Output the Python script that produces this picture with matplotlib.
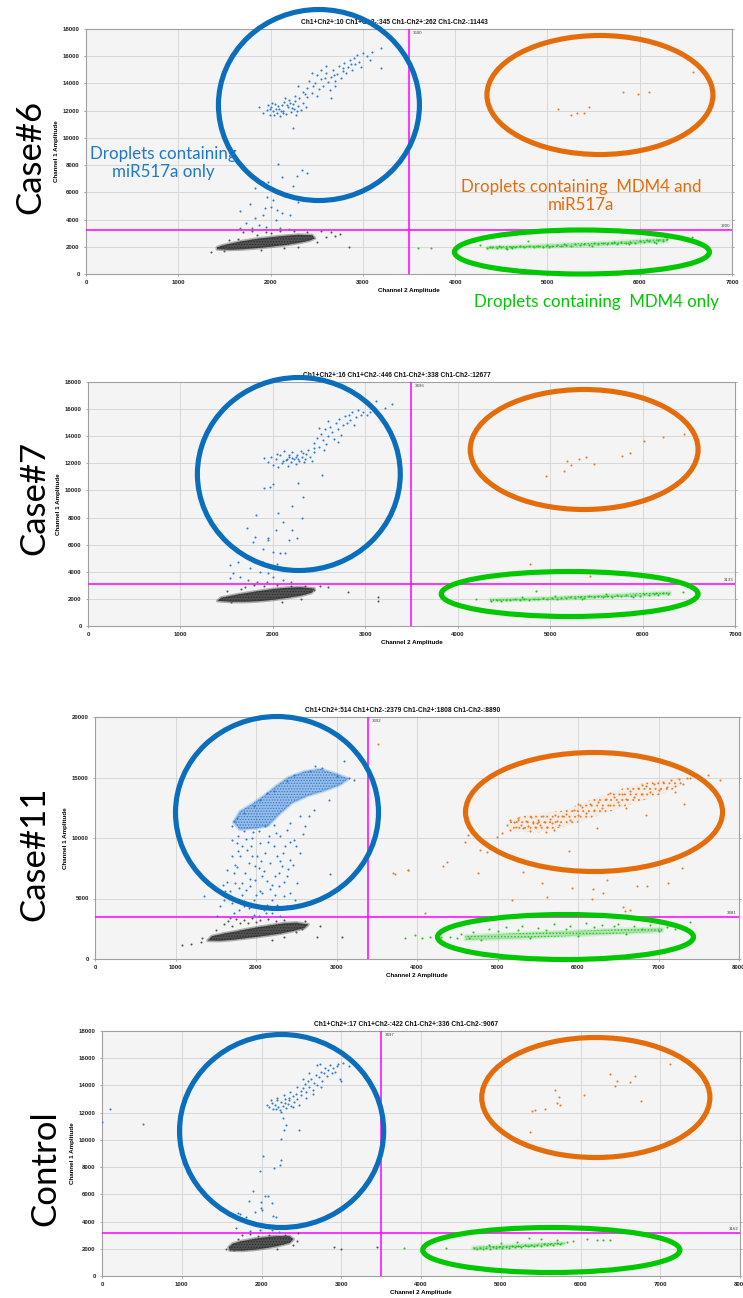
import numpy as np
import matplotlib
matplotlib.use('Agg')
import matplotlib.pyplot as plt
from matplotlib.colors import to_rgba
from matplotlib.patches import Ellipse, Polygon

plt.rcParams['font.family'] = ['Liberation Sans', 'DejaVu Sans']
plt.rcParams['hatch.linewidth'] = 0.6

FIG_W, FIG_H = 743, 1298

BLUE_DOT = '#2A7BD6'
BLACK_DOT = '#2B2B2B'
ORANGE_DOT = '#EC7A22'
GREEN_DOT = '#22C522'
BLUE_RING = '#0A6EBD'
ORANGE_RING = '#E46C0A'
GREEN_RING = '#00C800'
MAGENTA = '#FF00FF'

# ---------------- Case#6 ----------------
CASE6_COUNTS = 'Ch1+Ch2+:10 Ch1+Ch2-:345 Ch1-Ch2+:262 Ch1-Ch2-:11443'
CASE6_THRESH = (3500, 3200)
CASE6_BLUE = [
    (1880, 12250), (1920, 11850), (1960, 12050), (1990, 11700), (2010, 12300), (2030, 11950),
    (2050, 12500), (2070, 11800), (2090, 12150), (2100, 11600), (2120, 12400), (2140, 12000),
    (2150, 12650), (2170, 11750), (2190, 12250), (2200, 12800), (2220, 11900), (2240, 12500),
    (2250, 12100), (2270, 12700), (2280, 11700), (2300, 12350), (2310, 12900), (2330, 12050),
    (2350, 12600), (1970, 12400), (2060, 12150), (2110, 11950), (2180, 12450), (2230, 12200),
    (2040, 11650), (2160, 12900), (2380, 12300), (2400, 13000), (2260, 13100),
    (2350, 13400), (2400, 13700), (2420, 14200), (2450, 13300), (2480, 14000), (2500, 14600),
    (2520, 13600), (2550, 14300), (2570, 13800), (2600, 14800), (2620, 14100), (2640, 13500),
    (2660, 14500), (2680, 15000), (2700, 14200), (2720, 14700), (2740, 15300), (2760, 14400),
    (2780, 15100), (2800, 15500), (2820, 14800), (2840, 15200), (2860, 15700), (2880, 15000),
    (2900, 15900), (2920, 15400), (2940, 16100), (2960, 15600), (2980, 15200), (3000, 16200),
    (3050, 16000), (3080, 15700), (2450, 14800), (2550, 15000), (2650, 12900), (2500, 13100),
    (2300, 13800), (2700, 13800), (2600, 15300), (3200, 16600), (3200, 15100), (3100, 16300),
    (1990, 12100), (2080, 12350), (2130, 11800), (2210, 12600), (2290, 12000), (2020, 12600),
    (2370, 13200), (2460, 13800), (2590, 14400), (2690, 14600), (2790, 14900), (2870, 15400),
    (2245, 10700), (2083, 8088), (2119, 7108), (2245, 6470), (2282, 7206), (2336, 7647),
    (2390, 7451), (1830, 6299), (1920, 6789), (1975, 6789), (1957, 5686), (2029, 5441),
    (1668, 4657), (1776, 5147), (1830, 4093), (1733, 3725), (1920, 4338), (1939, 4828),
    (2000, 4950), (2065, 4706), (2058, 3970), (2119, 4461), (2209, 4338), (1668, 3407),
    (1800, 3350), (1950, 3450), (2100, 3350), (2200, 3300), (1880, 3600), (2300, 5300),
]
CASE6_BLACK_CORE = [
    (1420, 1820), (1550, 1780), (1700, 1820), (1850, 1900), (2000, 2000), (2150, 2120),
    (2300, 2280), (2420, 2450), (2480, 2620), (2450, 2850), (2300, 2880), (2150, 2800),
    (2000, 2700), (1850, 2580), (1700, 2420), (1580, 2250), (1470, 2080), (1420, 1950),
]
CASE6_BLACK = [
    (1350, 1650), (1700, 3050), (1800, 3150), (1950, 3100), (2100, 3150), (2250, 3150),
    (2400, 3100), (2550, 3150), (2650, 3100), (2750, 2950), (2300, 2000), (2500, 2350),
    (2850, 1950), (1650, 2600), (1550, 2500), (1850, 2900), (2000, 3000), (2600, 2700),
    (2700, 2800), (1500, 1700), (2150, 1900), (1900, 1750),
]
CASE6_ORANGE = [
    (5117, 12100), (5251, 11660), (5323, 11806), (5395, 11851), (5453, 12292), (5815, 13350),
    (5977, 13225), (6100, 13394), (6573, 14817),
]
CASE6_GREEN_CORE = [
    (4350, 1840), (5000, 1960), (5600, 2100), (6300, 2380),
    (6300, 2600), (5600, 2330), (5000, 2160), (4350, 2000),
]
CASE6_GREEN = [
    (3593, 1888), (3738, 1910), (4269, 2106), (4341, 1888), (4400, 1950), (4450, 1900),
    (4500, 1980), (4550, 1920), (4600, 2000), (4650, 1950), (4700, 2030), (4750, 1960),
    (4792, 2449), (4800, 2050), (4850, 1990), (4900, 2080), (4950, 2010), (5000, 2100),
    (5050, 2040), (5100, 2120), (5150, 2060), (5200, 2150), (5250, 2090), (5300, 2180),
    (5350, 2120), (5400, 2220), (5450, 2150), (5500, 2250), (5550, 2180), (5600, 2280),
    (5650, 2200), (5700, 2300), (5750, 2240), (5800, 2350), (5850, 2270), (5900, 2380),
    (5950, 2300), (6000, 2420), (6050, 2330), (6100, 2450), (6150, 2380), (6200, 2500),
    (6250, 2420), (6291, 2594), (6569, 2718), (4480, 2050), (4620, 1890), (5020, 1950),
    (5180, 2230), (5480, 2080), (5720, 2380), (5880, 2200), (6080, 2520), (6180, 2300),
    (4380, 2000), (4560, 1870),
]

# ---------------- Case#7 ----------------
CASE7_COUNTS = 'Ch1+Ch2+:16 Ch1+Ch2-:446 Ch1-Ch2+:338 Ch1-Ch2-:12677'
CASE7_THRESH = (3496, 3133)
CASE7_BLUE = [
    (1904, 12400), (1950, 12100), (2000, 11900), (2030, 12300), (2060, 11700), (2080, 12600),
    (2100, 12000), (2120, 12900), (2140, 12250), (2160, 11800), (2180, 12500), (2200, 12100),
    (2210, 12800), (2230, 12350), (2250, 11950), (2260, 12650), (2280, 12200), (2300, 12900),
    (2320, 12450), (2340, 12100), (2360, 12700), (2380, 13000), (2400, 12500), (2420, 12200),
    (2440, 13100), (2050, 12700), (2150, 12300), (2250, 12500), (2350, 12350), (1980, 12500),
    (2450, 13500), (2480, 13900), (2500, 13200), (2520, 14200), (2540, 13700), (2560, 14500),
    (2580, 13400), (2600, 14000), (2620, 14700), (2640, 14300), (2660, 13800), (2680, 15000),
    (2700, 14500), (2720, 15300), (2740, 14100), (2760, 14800), (2780, 15500), (2800, 15000),
    (2820, 15600), (2840, 15200), (2860, 15800), (2880, 14800), (2900, 15400), (2920, 15900),
    (2950, 15600), (2980, 15800), (3020, 15600), (2500, 14600), (2600, 15100), (2700, 13600),
    (2450, 12800), (2550, 13000), (3116, 16601), (3289, 16356), (3214, 16085), (3050, 15800),
    (2528, 11125), (2170, 12650), (2270, 12300), (2330, 12750), (2110, 12150), (2210, 12400),
    (1969, 10265), (2005, 10511), (1904, 10192), (2276, 10560), (2330, 9528), (2203, 8865),
    (1817, 8178), (2311, 7933), (1717, 7196), (2059, 8350), (2113, 7687), (2034, 7073),
    (2203, 7073), (2178, 6336), (2258, 6459), (1807, 6582), (1789, 6213), (1951, 6459),
    (1951, 6336), (1897, 5648), (1998, 5476), (2077, 5354), (2131, 5403), (1789, 4863),
    (1626, 4740), (1536, 4494), (1897, 4691), (2041, 4568), (1753, 4249), (1572, 3880),
    (1536, 3512), (1861, 4003), (1951, 3880), (2005, 3635), (1735, 3389), (1825, 3266),
    (1933, 3266), (2113, 3389), (1645, 3635), (2200, 3250),
]
CASE7_BLACK_CORE = [
    (1400, 1850), (1550, 1780), (1700, 1780), (1850, 1830), (2000, 1930), (2150, 2070),
    (2300, 2230), (2420, 2450), (2450, 2750), (2300, 2870), (2150, 2820), (2000, 2720),
    (1850, 2580), (1700, 2420), (1560, 2250), (1440, 2080),
]
CASE7_BLACK = [
    (1700, 2900), (1800, 3000), (1900, 2950), (2050, 3050), (2200, 2950), (2350, 2950),
    (2600, 2900), (2510, 2947), (2809, 2530), (3134, 2112), (3134, 1866), (1500, 2550),
    (1650, 2750), (2100, 1750), (2300, 2000), (1550, 1800), (2450, 2650),
]
CASE7_ORANGE = [
    (4951, 11090), (5146, 11458), (5182, 12172), (5222, 11901), (5308, 12320), (5384, 12443),
    (5477, 11950), (5780, 12541), (5859, 12738), (6011, 13647), (6220, 13917), (6443, 14138),
    (4778, 4574), (5434, 3689),
]
CASE7_GREEN_CORE = [
    (4350, 1830), (5000, 1930), (5700, 2120), (6300, 2320),
    (6300, 2520), (5700, 2330), (5000, 2120), (4350, 1990),
]
CASE7_GREEN = [
    (4195, 2016), (4364, 1869), (4420, 1920), (4470, 1880), (4520, 1950), (4570, 1900),
    (4620, 1980), (4670, 1920), (4720, 2000), (4770, 1940), (4820, 2020), (4851, 2606),
    (4870, 1960), (4920, 2050), (4970, 1990), (5020, 2080), (5070, 2010), (5120, 2100),
    (5170, 2040), (5220, 2120), (5270, 2060), (5320, 2150), (5370, 2090), (5420, 2180),
    (5470, 2110), (5520, 2200), (5570, 2140), (5620, 2230), (5670, 2170), (5720, 2260),
    (5770, 2190), (5820, 2290), (5870, 2220), (5920, 2320), (5970, 2250), (6020, 2350),
    (6070, 2280), (6120, 2380), (6170, 2310), (6220, 2400), (6270, 2340), (6436, 2484),
    (5050, 2250), (5350, 1990), (5600, 2350), (5900, 2150), (6150, 2450), (4700, 2150),
]

# ---------------- Case#11 ----------------
CASE11_COUNTS = 'Ch1+Ch2+:514 Ch1+Ch2-:2379 Ch1-Ch2+:1808 Ch1-Ch2-:8890'
CASE11_THRESH = (3392, 3481)
CASE11_BLUE_CORE = [
    (1720, 11300), (1800, 10700), (2000, 10800), (2150, 11000), (2280, 11900), (2450, 12900),
    (2650, 13500), (2850, 13900), (3050, 14400), (3150, 14900), (3000, 15300), (2800, 15700),
    (2600, 15500), (2400, 15000), (2250, 14300), (2100, 13500), (1950, 12800), (1800, 12200),
]
CASE11_BLUE = [
    (1357, 5179), (1589, 6143), (1639, 6336), (1680, 5592), (1722, 7107), (1743, 7796),
    (1805, 8485), (1867, 7107), (1888, 9036), (1909, 7934), (1929, 6006), (1950, 10000),
    (1971, 4904), (1992, 6556), (2012, 8485), (2033, 7521), (2054, 9587), (2075, 5455),
    (2095, 7245), (2116, 8760), (2137, 6419), (2158, 10138), (2178, 7934), (2199, 4904),
    (2220, 9311), (2241, 6832), (2261, 8485), (2282, 6006), (2303, 10138), (2324, 7658),
    (2344, 5179), (2365, 9311), (2386, 6832), (2427, 8209), (2469, 9862), (2510, 6281),
    (2552, 8760), (2614, 10964), (2656, 11791), (2925, 7052), (3091, 16336), (1701, 4628),
    (1784, 4077), (1846, 4766), (1722, 3802), (1909, 4215), (2095, 4077), (1971, 3664),
    (1826, 5317), (1950, 8485), (1743, 6281), (1826, 9311), (1846, 10551), (1763, 9587),
    (1701, 8485), (1639, 7383), (1606, 4904), (1556, 4353), (1515, 3526), (1680, 3388),
    (2033, 3526), (2199, 3802), (2261, 4490), (2386, 4353), (2427, 5455), (2490, 4904),
    (2303, 3526), (2137, 4490), (2054, 5592), (1992, 7658), (2033, 10551), (2116, 10964),
    (2220, 11102), (2386, 10689), (2427, 11240), (2552, 11791), (2718, 12342), (2905, 13168),
    (3008, 15096), (3154, 14959), (3216, 14821), (2822, 15785), (2739, 15923), (2676, 15510),
    (2469, 15234), (2386, 14683), (2220, 13857), (2137, 13719), (2054, 13168), (1971, 12617),
    (1846, 12066), (1763, 11653), (1701, 10964), (1722, 11377), (1880, 9900), (1780, 8900),
    (1920, 6600), (2170, 5800), (2300, 8100), (2400, 7400), (1660, 5000), (2240, 5300),
    (1850, 4400), (2080, 6900), (2500, 9300), (1780, 10200), (2580, 10300), (1760, 7600),
    (1820, 6300), (1870, 5700), (1940, 9300), (2000, 5300), (2060, 8100), (2150, 9700),
    (2200, 6100), (2280, 7100), (2340, 8800), (2420, 9700), (2460, 7800), (1700, 9800),
    (1620, 5600), (2120, 3800), (1960, 10500), (2250, 10400), (2350, 6400), (1790, 5900),
]
CASE11_BLACK_CORE = [
    (1400, 1520), (1550, 1500), (1700, 1580), (1850, 1700), (2000, 1820), (2150, 1950),
    (2300, 2100), (2450, 2300), (2600, 2550), (2650, 2850), (2500, 3000), (2350, 2950),
    (2200, 2800), (2050, 2650), (1900, 2480), (1750, 2280), (1600, 2100), (1450, 1880),
]
CASE11_BLACK = [
    (1079, 1129), (1191, 1240), (1320, 1405), (1328, 1708), (2759, 1790), (3071, 1790),
    (2344, 1790), (2614, 3113), (2573, 2479), (1650, 3100), (1750, 3300), (1850, 3200),
    (1950, 3350), (2050, 3250), (2150, 3300), (2250, 3100), (1900, 3000), (1700, 2700),
    (2000, 3050), (2200, 1600), (2500, 2200), (2800, 2700), (1500, 2400), (1600, 2900),
    (2350, 3250), (1800, 2950),
]
CASE11_ORANGE_CORE = [
    (5150, 10550), (5500, 10450), (5850, 10950), (6250, 11850), (6650, 12750), (7050, 13650),
    (7300, 14350), (7300, 14950), (7000, 14800), (6600, 14200), (6200, 13250), (5800, 12250),
    (5400, 11950), (5150, 11550),
]
CASE11_ORANGE = [
    (5114, 11074), (5150, 10700), (5200, 11300), (5230, 10900), (5260, 11500), (5290, 11100),
    (5320, 10800), (5350, 11400), (5380, 11000), (5410, 11700), (5440, 11200), (5470, 10900),
    (5500, 11500), (5530, 11100), (5560, 11800), (5590, 11300), (5620, 10950), (5650, 11600),
    (5680, 11200), (5710, 11900), (5740, 11400), (5770, 11100), (5800, 11800), (5487, 11212),
    (5250, 11650), (5400, 10600), (5600, 10500), (5150, 11500), (5050, 10400), (5700, 10700),
    (5850, 12000), (5900, 11500), (5950, 12300), (6000, 11900), (6050, 12600), (6100, 12100),
    (6150, 12800), (6200, 12300), (6250, 13000), (6300, 12500), (6350, 13200), (6400, 12700),
    (6450, 13400), (6500, 13000), (6550, 13600), (6600, 13200), (6650, 13900), (6700, 13400),
    (6750, 14100), (6800, 13600), (6850, 14300), (6900, 13800), (6950, 14500), (7000, 14000),
    (7050, 14600), (7100, 14200), (7150, 14800), (7200, 14300), (7250, 14900), (7300, 14500),
    (7350, 15000), (7391, 14933), (7619, 15206), (7764, 14793), (6841, 11900), (7317, 12784),
    (6232, 10801), (6000, 12800), (6400, 13700), (6800, 14400), (7200, 13800), (6600, 12500),
    (4762, 7082), (4369, 8041), (4327, 7686), (3706, 7082), (3892, 7355), (4596, 9694),
    (4783, 9008), (4866, 8868), (4990, 10057), (4637, 10248), (5549, 6256), (5611, 5149),
    (5176, 4876), (5922, 5843), (6170, 4934), (6191, 5760), (6357, 6529), (6315, 5430),
    (6563, 4322), (6646, 4049), (6584, 3992), (6729, 6033), (6853, 6033), (7122, 6305),
    (7288, 7545), (5321, 7165), (5892, 8950), (4099, 3776), (3520, 17770), (3722, 7052),
    (3888, 7328),
]
CASE11_GREEN_CORE = [
    (4600, 1580), (5200, 1680), (5800, 1860), (6400, 2060), (7050, 2260),
    (7050, 2560), (6400, 2450), (5800, 2280), (5200, 2120), (4600, 1930),
]
CASE11_GREEN = [
    (3851, 1763), (3975, 1983), (4058, 1763), (4161, 1845), (4410, 1790), (4500, 1720),
    (4700, 2250), (4900, 2500), (5100, 2650), (5300, 2750), (5500, 2550), (5700, 2900),
    (5900, 2700), (6100, 2950), (6300, 2800), (6500, 2900), (6700, 2750), (6900, 2850),
    (7100, 2650), (7391, 3085), (7200, 2450), (4800, 1600), (5400, 1700), (6000, 1900),
    (6600, 2100), (5000, 2300), (6200, 2650), (4550, 2100), (5600, 2400), (6800, 2500),
    (7000, 2300), (4300, 1850), (4650, 1700), (5250, 2400), (5850, 2500), (6450, 2700),
]

# ---------------- Control ----------------
CONTROL_COUNTS = 'Ch1+Ch2+:17 Ch1+Ch2-:422 Ch1-Ch2+:336 Ch1-Ch2-:9067'
CONTROL_THRESH = (3497, 3162)
CONTROL_BLUE = [
    (2065, 12550), (2100, 12400), (2130, 12700), (2150, 12300), (2170, 12600), (2190, 12900),
    (2210, 12450), (2230, 12200), (2250, 12750), (2270, 12500), (2290, 13000), (2310, 12350),
    (2330, 12650), (2350, 12950), (2370, 12500), (2390, 13200), (2410, 12800), (2430, 13400),
    (2450, 13000), (2470, 12600), (2490, 13600), (2200, 13100), (2280, 13300), (2360, 13500),
    (2120, 12900), (2240, 12050), (2180, 12300), (2300, 12700), (2400, 12400), (2340, 13100),
    (2500, 13300), (2520, 13800), (2540, 14100), (2560, 13500), (2580, 14300), (2600, 13900),
    (2620, 14500), (2640, 13700), (2660, 14200), (2680, 14800), (2700, 14000), (2720, 14600),
    (2740, 15000), (2760, 14300), (2780, 14900), (2800, 15300), (2820, 14700), (2840, 15100),
    (2860, 15500), (2880, 14900), (2900, 15300), (2920, 15000), (2950, 15400), (2980, 14500),
    (3000, 14300), (3025, 15652), (2960, 15600), (3100, 15400), (2733, 15603), (2700, 15500),
    (2600, 14900), (2560, 13100), (2650, 13400), (2440, 13900), (2520, 14500), (2750, 13900),
    (96, 12301), (0, 11323), (513, 11200),
    (2274, 11616), (2307, 11127), (2282, 10760), (2240, 10051), (2470, 10711), (2023, 8829),
    (2245, 8511), (2232, 8144), (2161, 7899), (1982, 7728), (1898, 6261), (2044, 5894),
    (2078, 5894), (1840, 5502), (1994, 5454), (1990, 5013), (2000, 4842), (2128, 5331),
    (1919, 4720), (1806, 4353), (1710, 4646), (1731, 4549), (2149, 4402), (2182, 4353),
    (1681, 3546), (1856, 3326), (1982, 3375), (2128, 3375), (2224, 3250),
]
CONTROL_BLACK_CORE = [
    (1600, 1880), (1750, 1860), (1900, 1920), (2050, 2040), (2200, 2200), (2350, 2420),
    (2400, 2700), (2350, 2920), (2200, 2930), (2050, 2850), (1900, 2720), (1750, 2560),
    (1640, 2380), (1590, 2120),
]
CONTROL_BLACK = [
    (2912, 2103), (3000, 2005), (3454, 2152), (2461, 3130), (1700, 2700), (1750, 3000),
    (1850, 3050), (1950, 2950), (2100, 3000), (2300, 3000), (1550, 1950), (2450, 2600),
    (2200, 1950), (1650, 1900), (2400, 2300),
]
CONTROL_ORANGE = [
    (5362, 10604), (5395, 12097), (5424, 12195), (5558, 12244), (5684, 13665), (5705, 12732),
    (5734, 13128), (5746, 12586), (6039, 13275), (6374, 14841), (6428, 13959), (6462, 14326),
    (6616, 14278), (6688, 14694), (6759, 12880), (7127, 15576),
]
CONTROL_GREEN_CORE = [
    (4650, 1960), (5200, 2100), (5800, 2300),
    (5800, 2470), (5200, 2290), (4650, 2130),
]
CONTROL_GREEN = [
    (3789, 2033), (4316, 2033), (4659, 2082), (4700, 2000), (4740, 2060), (4780, 1990),
    (4820, 2080), (4860, 2020), (4900, 2110), (4940, 2040), (4980, 2130), (5020, 2070),
    (5060, 2160), (5100, 2090), (5140, 2190), (5180, 2120), (5220, 2220), (5260, 2150),
    (5300, 2250), (5340, 2180), (5380, 2280), (5420, 2210), (5460, 2310), (5500, 2240),
    (5540, 2340), (5580, 2270), (5620, 2370), (5660, 2300), (5700, 2400), (5740, 2330),
    (5830, 2473), (5349, 2816), (5500, 2700), (5700, 2650), (5900, 2600), (6081, 2718),
    (6207, 2650), (6282, 2680), (6374, 2650), (5000, 2400), (5200, 2500), (4850, 2300),
]

# layout: (left, top, right, bottom) in pixels, axis ranges, rings (cx, cy, w, h)
PANELS = [
    dict(box=(86, 29, 732, 274), xmax=7000, ymax=18000, ystep=2000,
         counts=CASE6_COUNTS, thresh=CASE6_THRESH, blue=CASE6_BLUE, black=CASE6_BLACK,
         black_core=CASE6_BLACK_CORE, orange=CASE6_ORANGE, green=CASE6_GREEN,
         green_core=CASE6_GREEN_CORE,
         rings=[(2524, 12416, 2178, 14033), (5569, 13151, 2449, 8743), (5374, 1616, 2763, 3233)],
         name='Case#6', name_xy=(30, 157)),
    dict(box=(88, 382, 735, 626), xmax=7000, ymax=18000, ystep=2000,
         counts=CASE7_COUNTS, thresh=CASE7_THRESH, blue=CASE7_BLUE, black=CASE7_BLACK,
         black_core=CASE7_BLACK_CORE, orange=CASE7_ORANGE, green=CASE7_GREEN,
         green_core=CASE7_GREEN_CORE,
         rings=[(2281, 11213, 2195, 14237), (5368, 13020, 2465, 8852), (5211, 2361, 2778, 3320)],
         name='Case#7', name_xy=(34, 498)),
    dict(box=(95, 717, 739, 959), xmax=8000, ymax=20000, ystep=5000,
         counts=CASE11_COUNTS, thresh=CASE11_THRESH, blue=CASE11_BLUE, black=CASE11_BLACK,
         black_core=CASE11_BLACK_CORE, orange=CASE11_ORANGE, green=CASE11_GREEN,
         blue_core=CASE11_BLUE_CORE, green_core=CASE11_GREEN_CORE,
         orange_core=CASE11_ORANGE_CORE,
         rings=[(2261, 12107, 2522, 15868), (6199, 12149, 3193, 9835), (5845, 1818, 3180, 3719)],
         name='Case#11', name_xy=(34, 854)),
    dict(box=(102, 1031, 740, 1276), xmax=8000, ymax=18000, ystep=2000,
         counts=CONTROL_COUNTS, thresh=CONTROL_THRESH, blue=CONTROL_BLUE, black=CONTROL_BLACK,
         black_core=CONTROL_BLACK_CORE, orange=CONTROL_ORANGE, green=CONTROL_GREEN,
         green_core=CONTROL_GREEN_CORE,
         rings=[(2252, 10653, 2560, 14180), (6192, 13114, 2861, 8816), (5634, 1910, 3225, 3306)],
         name='Control', name_xy=(45, 1168)),
]


def fx(px):
    return px / FIG_W


def fy(py):
    return 1 - py / FIG_H


def scatter(ax, pts, color):
    arr = np.array(pts, dtype=float)
    ax.scatter(arr[:, 0], arr[:, 1], s=2.2, c=color, linewidths=0, zorder=3)


def core(ax, pts, color, alpha, hatch='......', halo=0.35):
    # soft halo, translucent body, then a dotted texture on top
    if halo:
        ax.add_patch(Polygon(pts, closed=True, fill=False, ec=to_rgba(color, halo), lw=2.2,
                             joinstyle='round', zorder=2.5))
    ax.add_patch(Polygon(pts, closed=True, fc=to_rgba(color, alpha), lw=0, zorder=2.5))
    ax.add_patch(Polygon(pts, closed=True, fill=False, ec=color, lw=0, hatch=hatch,
                         zorder=2.6))


def draw_panel(fig, p):
    l, t, r, b = p['box']
    ax = fig.add_axes([fx(l), fy(b), (r - l) / FIG_W, (b - t) / FIG_H])
    ax.set_facecolor('#F4F4F4')
    ax.set_xlim(0, p['xmax'])
    ax.set_ylim(0, p['ymax'])
    ax.set_xticks(range(0, p['xmax'] + 1, 1000))
    ax.set_yticks(range(0, p['ymax'] + 1, p['ystep']))
    ax.grid(color='#D8D8D8', lw=0.7)
    ax.set_axisbelow(True)
    ax.tick_params(labelsize=4.3, length=1.5, width=0.5, color='#888888', pad=3,
                   right=True, labelcolor='#222222')
    for lab in ax.get_xticklabels() + ax.get_yticklabels():
        lab.set_fontweight('bold')
    for s in ax.spines.values():
        s.set_color('#A0A0A0')
        s.set_linewidth(0.8)
    ax.set_xlabel('Channel 2 Amplitude', fontsize=4.5, fontweight='bold', labelpad=2)
    ax.set_ylabel('Channel 1 Amplitude', fontsize=4.5, fontweight='bold', labelpad=3)
    ax.text(0.477, 1.012, p['counts'], transform=ax.transAxes, ha='center', va='bottom',
            fontsize=4.8, fontweight='bold', color='#111111')

    tx, ty = p['thresh']
    ax.axvline(tx, color=MAGENTA, lw=1.1, zorder=2.8)
    ax.axhline(ty, color=MAGENTA, lw=1.1, zorder=2.8)
    ax.text(tx + p['xmax'] * 0.006, p['ymax'] * 0.99, str(tx), fontsize=3.2, va='top',
            color='#444444')
    ax.text(p['xmax'] * 0.997, ty + p['ymax'] * 0.008, str(ty), fontsize=3.2, ha='right',
            va='bottom', color='#444444')

    core(ax, p['black_core'], BLACK_DOT, 0.8)
    if 'blue_core' in p:
        core(ax, p['blue_core'], BLUE_DOT, 0.45, halo=0.25)
    if 'orange_core' in p:
        core(ax, p['orange_core'], ORANGE_DOT, 0.06, hatch='...', halo=0)
    if 'green_core' in p:
        core(ax, p['green_core'], GREEN_DOT, 0.3, hatch='.....', halo=0.15)
    scatter(ax, p['black'], '#555555')
    scatter(ax, p['blue'], BLUE_DOT)
    scatter(ax, p['orange'], ORANGE_DOT)
    scatter(ax, p['green'], GREEN_DOT)

    for (cx, cy, w, h), col in zip(p['rings'], [BLUE_RING, ORANGE_RING, GREEN_RING]):
        ax.add_patch(Ellipse((cx, cy), w, h, fill=False, ec=col, lw=3.7,
                             clip_on=False, zorder=5))

    nx, ny = p['name_xy']
    fig.text(fx(nx), fy(ny), p['name'], rotation=90, ha='center', va='center',
             fontsize=25, family='Lato', color='black')
    return ax


fig = plt.figure(figsize=(FIG_W / 100, FIG_H / 100), dpi=100)
for panel in PANELS:
    draw_panel(fig, panel)

fig.text(fx(163), fy(163), 'Droplets containing\nmiR517a only', ha='center', va='center',
         fontsize=12.2, family='Lato', color='#1F78C8', linespacing=1.1)
fig.text(fx(581), fy(196), 'Droplets containing  MDM4 and\nmiR517a', ha='center',
         va='center', fontsize=12.2, family='Lato', color=ORANGE_RING, linespacing=1.1)
fig.text(fx(597), fy(302), 'Droplets containing  MDM4 only', ha='center', va='center',
         fontsize=12.2, family='Lato', color=GREEN_RING)

fig.savefig('out.png', dpi=100)
